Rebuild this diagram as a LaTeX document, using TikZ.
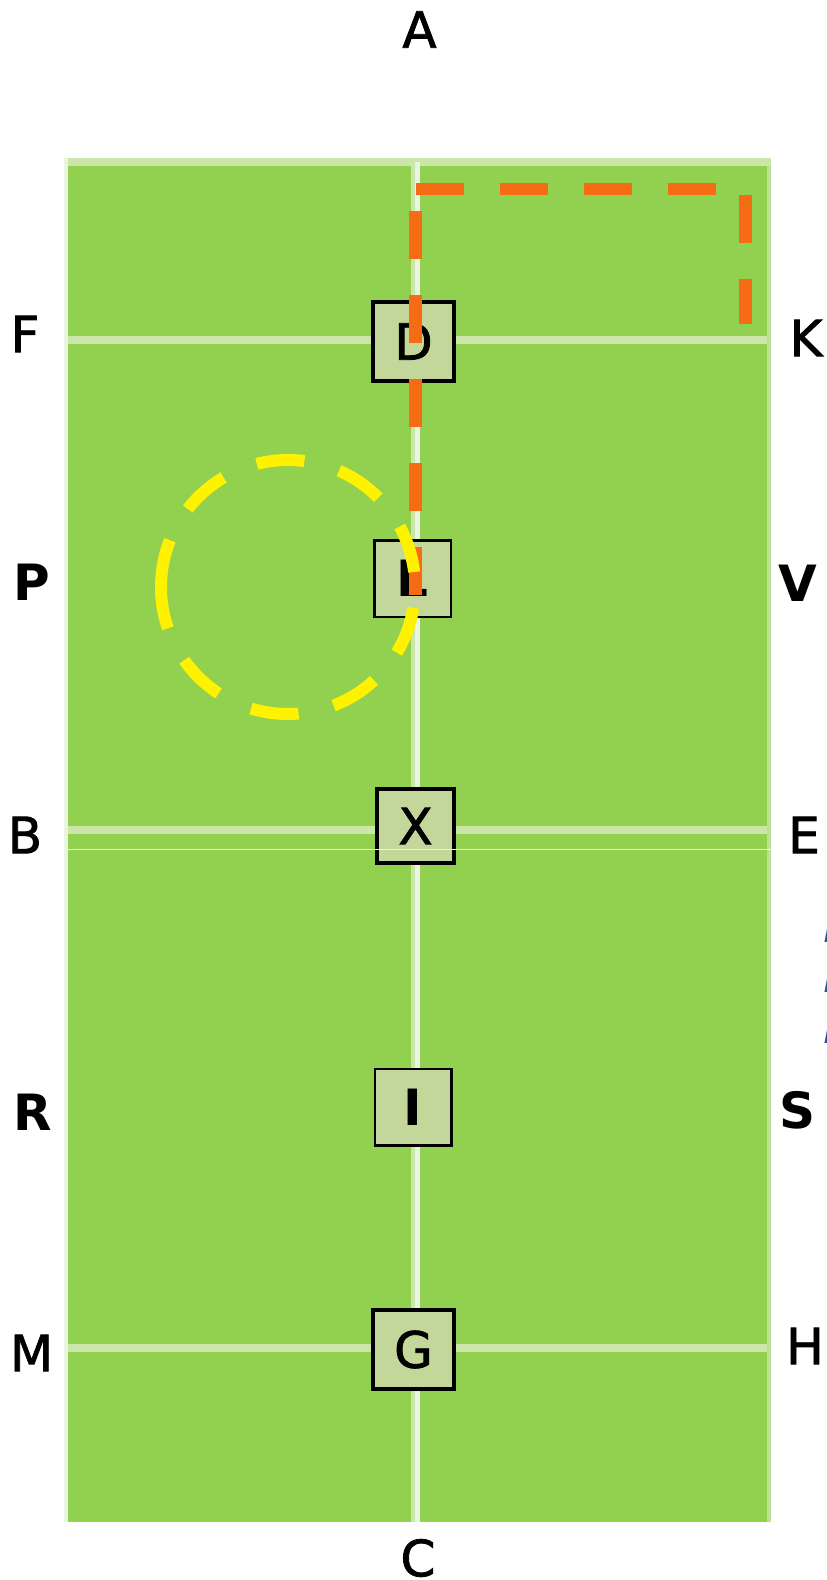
\documentclass[tikz,border=0pt]{standalone}
\usepackage{fontspec}
\setmainfont{DejaVu Sans}
\newfontfamily\medfont{DejaVu Sans}[FakeBold=1.6]
\definecolor{field}{RGB}{146,208,80}
\definecolor{band}{RGB}{204,230,170}
\definecolor{paleline}{RGB}{233,245,223}
\definecolor{rborder}{RGB}{188,225,148}
\definecolor{boxfill}{RGB}{196,215,155}
\definecolor{orangedash}{RGB}{245,108,20}
\definecolor{cutblue}{RGB}{40,82,145}
\tikzset{
  lbl/.style={inner sep=0pt, text=black, font=\medfont\fontsize{50bp}{50bp}\selectfont},
  blbl/.style={inner sep=0pt, text=black, font=\fontsize{50bp}{50bp}\selectfont\bfseries},
  thickbox/.style={draw=black, line width=4bp, fill=boxfill, minimum width=81bp, minimum height=79bp, inner sep=0pt, font=\medfont\fontsize{50bp}{50bp}\selectfont},
  thinbox/.style={draw=black, line width=2.5bp, fill=boxfill, minimum width=76.5bp, minimum height=76.5bp, inner sep=0pt, font=\fontsize{50bp}{50bp}\selectfont\bfseries},
  odash/.style={draw=orangedash, line width=12.5bp, dash pattern=on 48bp off 36bp},
  ydash/.style={draw=yellow, line width=12bp, dash pattern=on 48bp off 36bp},
  cutlbl/.style={inner sep=0pt, anchor=west, text=cutblue, font=\fontsize{21bp}{21bp}\selectfont\bfseries\itshape},
}
\begin{document}
\begin{tikzpicture}[x=1bp, y=-1bp]
\fill[white] (0,0) rectangle (826,1580);
\useasboundingbox (0,0) rectangle (826,1580);
% field
\fill[field] (64,158) rectangle (771,1522);
\fill[band] (64,158) rectangle (771,166);
\fill[band] (64,336) rectangle (771,344);
\fill[band] (64,826) rectangle (771,834);
\fill[band] (64,1344) rectangle (771,1352);
\fill[band] (411,162) rectangle (415,1522);
\fill[paleline] (415,162) rectangle (420,1522);
\fill[paleline] (64,158) rectangle (68,1522);
\fill[rborder] (767,166) rectangle (771,1522);
% boxes
\node[thickbox] (D) at (413.5,341.5) {D};
\node[thinbox] (L) at (412.5,578.5) {L};
\node[thickbox, minimum width=77bp, minimum height=74bp] (X) at (415.5,826) {X};
\node[thinbox] (I) at (413,1107) {I};
\node[thickbox] (G) at (413.5,1349.5) {G};
\draw[paleline, line width=1bp] (64,849) -- (771,849);
% orange dashed path
\coordinate (o1) at (415.5,595);
\coordinate (o2) at (415.5,189);
\coordinate (o3) at (745.7,189);
\coordinate (o4) at (745.7,324.3);
\draw[odash] (o1) -- (o2);
\draw[odash] (o2) -- (o3) -- (o4);
% yellow dashed circle
\coordinate (yc) at (288,587);
\draw[ydash] (yc) ++(180:127) arc[start angle=180, end angle=540, radius=127];
% outer labels
\node[lbl] (A) at (419.5,29.5) {A};
\node[lbl] (F) at (25,334) {F};
\node[lbl] (K) at (806,338) {K};
\node[blbl] (P) at (32,582.5) {P};
\node[blbl] (V) at (798,583) {V};
\node[lbl] (B) at (25,835) {B};
\node[lbl] (E) at (804,835) {E};
\node[blbl] (R) at (33,1112) {R};
\node[blbl] (S) at (797.5,1110.5) {S};
\node[lbl] (M) at (31.6,1353) {M};
\node[lbl] (H) at (805,1346) {H};
\node[lbl] (C) at (418,1558) {C};
% cut-off marks at right edge
\node[cutlbl] (c1) at (824,935) {I};
\node[cutlbl] (c2) at (824,985) {I};
\node[cutlbl] (c3) at (824,1036) {I};
\end{tikzpicture}
\end{document}
